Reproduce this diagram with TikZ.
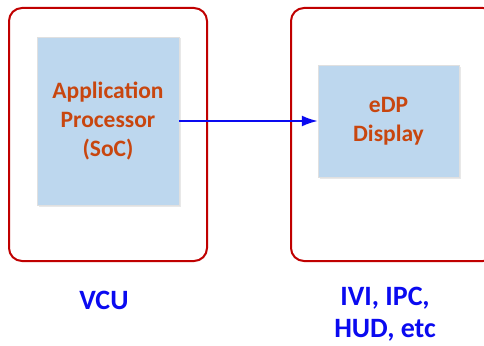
\documentclass[tikz,border=0pt]{standalone}
\usepackage{fontspec}
\setmainfont{Carlito}
\usetikzlibrary{arrows.meta,shadows}
\definecolor{frame}{HTML}{C00000}
\definecolor{chipfill}{HTML}{BDD7EE}
\definecolor{chiptext}{HTML}{C8460F}
\definecolor{linkblue}{HTML}{0A0AF0}
\tikzset{
  unit/.style={draw=frame, line width=2pt, rounded corners=13pt, fill=white,
    drop shadow={shadow xshift=1pt, shadow yshift=-1pt, opacity=0.12}},
  chip/.style={fill=chipfill, draw=black!12, line width=0.5pt,
    drop shadow={shadow xshift=1.5pt, shadow yshift=-1.5pt, opacity=0.18},
    font=\bfseries\fontsize{23.5}{29}\selectfont, text=chiptext, align=center},
  caption/.style={font=\bfseries\fontsize{28}{32}\selectfont, text=linkblue,
    align=center, inner sep=0pt},
  link/.style={draw=linkblue, line width=1.8pt, -{Latex[length=16pt,width=11pt]}}
}
\begin{document}
\begin{tikzpicture}[x=1pt,y=-1pt]
\useasboundingbox (0,0) rectangle (484,345);
% outer enclosures
\draw[unit] (9,8) rectangle (207,261);
\draw[unit] (291,8) rectangle (496,261);
% inner blocks
\node[chip, minimum width=142pt, minimum height=168pt] (soc) at (108,121) {Application\\Processor\\(SoC)};
\node[chip, minimum width=141pt, minimum height=112pt] (edp) at (388.5,121) {eDP\\Display};
% link from SoC to display
\draw[link] (soc.east) -- (edp.west);
% captions
\node[caption] (vcu) at (104,300) {VCU};
\node[caption] (ivi) at (385,314) {IVI, IPC,\\HUD, etc};
\end{tikzpicture}
\end{document}
